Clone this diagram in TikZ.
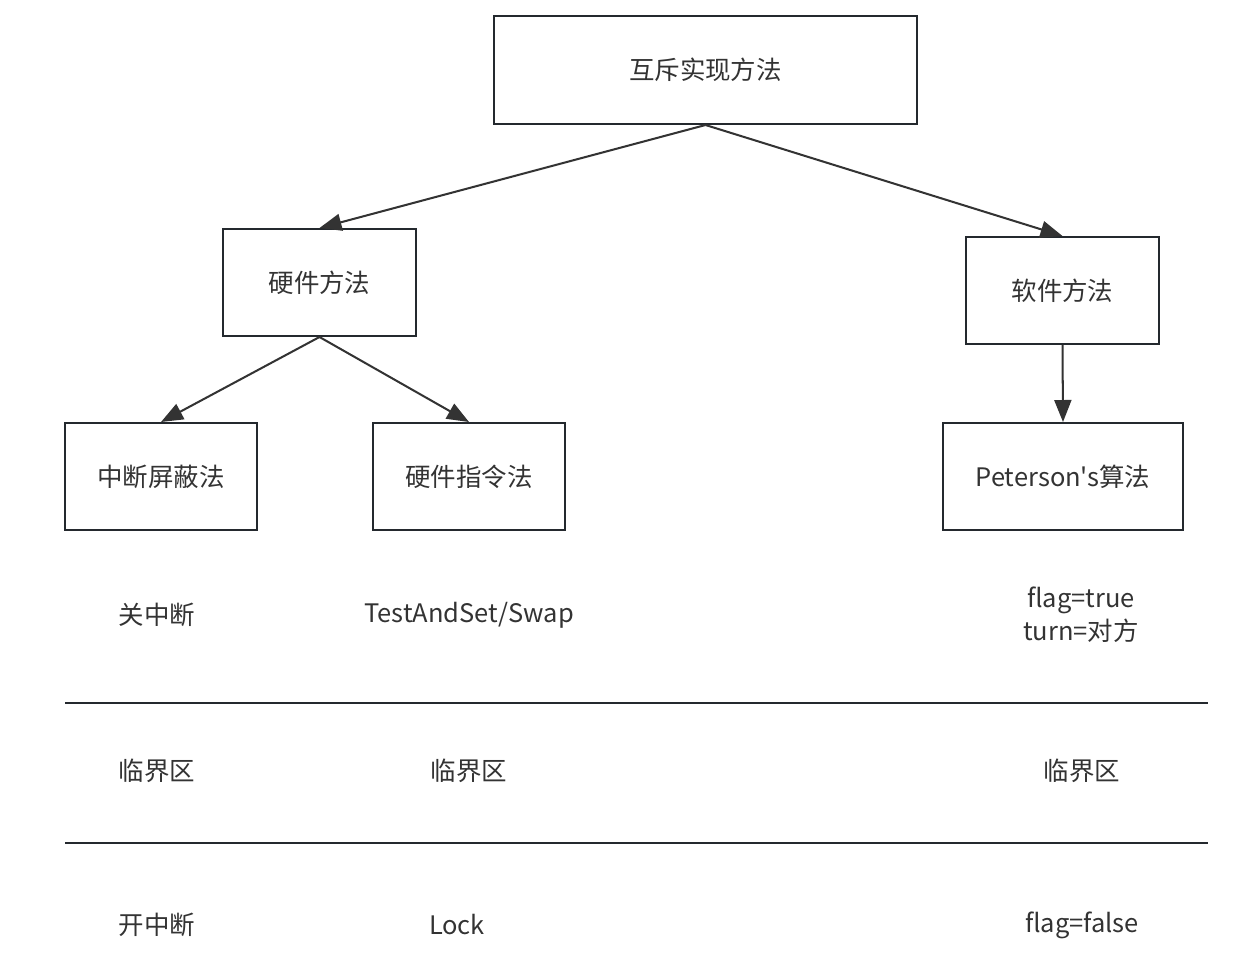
\documentclass[tikz,border=0pt]{standalone}
\usepackage{fontspec}
\newfontfamily\cjkfont{Noto Sans CJK SC}
\usepackage{tikz}
\usetikzlibrary{arrows.meta}
\definecolor{linegray}{HTML}{24292E}
\definecolor{textgray}{HTML}{333333}

\begin{document}
\begin{tikzpicture}[x=0.02cm, y=-0.02cm, line width=1.15pt,
    box/.style={draw=linegray, minimum width=3.86cm, minimum height=2.14cm, inner sep=0pt, text=textgray},
    lbl/.style={text=textgray, align=center},
    arr/.style={draw=textgray, -{Triangle[length=0.44cm, width=0.34cm]}},
    font=\cjkfont\fontsize{14.5}{18.7}\selectfont]
    \useasboundingbox (0,0) rectangle (1248,967);
    % boxes
    \node[box, minimum width=8.46cm, minimum height=2.16cm] (top) at (705.5,70) {互斥实现方法};
    \node[box] (hw) at (319.5,282.5) {硬件方法};
    \node[box] (sw) at (1062.5,290.5) {软件方法};
    \node[box] (int) at (161,476.5) {中断屏蔽法};
    \node[box] (ins) at (469,476.5) {硬件指令法};
    \node[box, minimum width=4.8cm] (pet) at (1063,476.5) {Peterson's算法};
    \draw[arr] (top.south) -- (hw.north);
    \draw[arr] (top.south) -- (sw.north);
    \draw[arr] (hw.south) -- (int.north);
    \draw[arr] (hw.south) -- (ins.north);
    \draw[arr] (sw.south) -- (pet.north);
    % rows
    \node[lbl] (a1) at (157,615) {关中断};
    \node[lbl] (b1) at (469,615) {TestAndSet/Swap};
    \node[lbl] (c1) at (1081,615) {flag=true\\turn=对方};
    \coordinate (l1a) at (65,703);
    \coordinate (l1b) at (1208,703);
    \draw[linegray] (l1a) -- (l1b);
    \node[lbl] (a2) at (157,771) {临界区};
    \node[lbl] (b2) at (469,771) {临界区};
    \node[lbl] (c2) at (1082,771) {临界区};
    \coordinate (l2a) at (65,843);
    \coordinate (l2b) at (1208,843);
    \draw[linegray] (l2a) -- (l2b);
    \node[lbl] (a3) at (157,925) {开中断};
    \node[lbl] (b3) at (457,925) {Lock};
    \node[lbl] (c3) at (1082,925) {flag=false};
\end{tikzpicture}
\end{document}
